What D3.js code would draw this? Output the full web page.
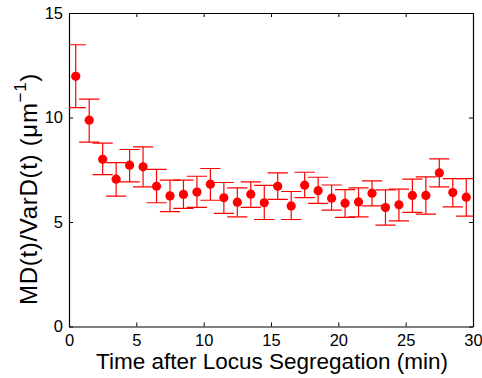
<!DOCTYPE html>
<html>
<head>
<meta charset="utf-8">
<script src="https://cdn.jsdelivr.net/npm/d3@7"></script>
<style>
  body { margin: 0; background: #fff; }
  text { font-family: "Liberation Sans", Arial, sans-serif; fill: #000; }
</style>
</head>
<body>
<div id="chart"></div>
<script>
// time (min) of each bin
var times = [0.5, 1.5, 2.5, 3.5, 4.5, 5.5, 6.5, 7.5, 8.5, 9.5,
             10.5, 11.5, 12.5, 13.5, 14.5, 15.5, 16.5, 17.5, 18.5, 19.5,
             20.5, 21.5, 22.5, 23.5, 24.5, 25.5, 26.5, 27.5, 28.5, 29.5];
// MD(t)/VarD(t)
var ratio = [11.97, 9.87, 8.0, 7.05, 7.72, 7.64, 6.71, 6.25, 6.32, 6.43,
             6.81, 6.16, 5.95, 6.33, 5.92, 6.71, 5.77, 6.76, 6.5, 6.14,
             5.9, 5.96, 6.38, 5.69, 5.82, 6.27, 6.27, 7.35, 6.41, 6.19];
// error bar ends
var upper = [13.48, 10.88, 8.77, 7.84, 8.47, 8.59, 7.52, 7.0, 7.0, 7.19,
             7.56, 6.89, 6.63, 6.92, 6.75, 7.35, 6.46, 7.38, 7.14, 6.77,
             6.55, 6.63, 6.97, 6.54, 6.57, 7.05, 7.16, 8.02, 7.08, 7.08];
var lower = [10.47, 8.82, 7.27, 6.24, 6.92, 6.68, 5.92, 5.5, 5.65, 5.7,
             6.04, 5.41, 5.25, 5.7, 5.12, 6.08, 5.12, 6.17, 5.89, 5.57,
             5.22, 5.25, 5.77, 4.85, 5.05, 5.46, 5.38, 6.68, 5.72, 5.28];

var xTicks = [0, 5, 10, 15, 20, 25, 30];
var yTicks = [0, 5, 10, 15];

var W = 482, H = 378;
var margin = { top: 13, right: 9, bottom: 51.5, left: 69 };
var width = W - margin.left - margin.right,
    height = H - margin.top - margin.bottom;

var svg = d3.select("#chart").append("svg")
  .attr("width", W).attr("height", H);

svg.append("defs").append("clipPath").attr("id", "plotclip")
  .append("rect").attr("width", width).attr("height", height);

var g = svg.append("g")
  .attr("transform", "translate(" + margin.left + "," + margin.top + ")");

var x = d3.scaleLinear().domain([0, 30]).range([0, width]);
var y = d3.scaleLinear().domain([0, 15]).range([height, 0]);

var points = times.map(function(t, i) {
  return { t: t, v: ratio[i], hi: upper[i], lo: lower[i] };
});

// axes, ticks pointing inward on all four sides
var tickLen = 4;
g.append("g").attr("class", "ax")
  .attr("transform", "translate(0," + height + ")")
  .call(d3.axisBottom(x).tickValues(xTicks).tickSizeInner(-tickLen).tickSizeOuter(0).tickPadding(8));
g.append("g").attr("class", "ax")
  .call(d3.axisLeft(y).tickValues(yTicks).tickSizeInner(-tickLen).tickSizeOuter(0).tickPadding(6));
g.append("g").attr("class", "ax")
  .call(d3.axisTop(x).tickValues(xTicks).tickSizeInner(-tickLen).tickSizeOuter(0).tickFormat(""));
g.append("g").attr("class", "ax")
  .attr("transform", "translate(" + width + ",0)")
  .call(d3.axisRight(y).tickValues(yTicks).tickSizeInner(-tickLen).tickSizeOuter(0).tickFormat(""));

g.selectAll(".ax path").attr("stroke", "#000").attr("stroke-width", 1.2);
g.selectAll(".ax line").attr("stroke", "#000").attr("stroke-width", 1);
g.selectAll(".ax text")
  .style("font-family", "'Liberation Sans', Arial, sans-serif")
  .style("font-size", "16.5px").attr("fill", "#000");

// error bars
var capHalf = 0.75; // in minutes
var bars = g.append("g").attr("clip-path", "url(#plotclip)");
bars.selectAll(".stem").data(points).enter().append("line")
  .attr("x1", function(d) { return x(d.t); })
  .attr("x2", function(d) { return x(d.t); })
  .attr("y1", function(d) { return y(d.lo); })
  .attr("y2", function(d) { return y(d.hi); })
  .attr("stroke", "#ff0000").attr("stroke-width", 1.2);
bars.selectAll(".capTop").data(points).enter().append("line")
  .attr("x1", function(d) { return x(d.t - capHalf); })
  .attr("x2", function(d) { return x(d.t + capHalf); })
  .attr("y1", function(d) { return y(d.hi); })
  .attr("y2", function(d) { return y(d.hi); })
  .attr("stroke", "#ff0000").attr("stroke-width", 1.2);
bars.selectAll(".capBot").data(points).enter().append("line")
  .attr("x1", function(d) { return x(d.t - capHalf); })
  .attr("x2", function(d) { return x(d.t + capHalf); })
  .attr("y1", function(d) { return y(d.lo); })
  .attr("y2", function(d) { return y(d.lo); })
  .attr("stroke", "#ff0000").attr("stroke-width", 1.2);

// markers
g.selectAll(".dot").data(points).enter().append("circle")
  .attr("cx", function(d) { return x(d.t); })
  .attr("cy", function(d) { return y(d.v); })
  .attr("r", 4.6)
  .attr("fill", "#ff0000");

// labels
svg.append("text")
  .attr("x", margin.left + width / 2 + 1)
  .attr("y", 369)
  .attr("text-anchor", "middle")
  .style("font-size", "22.5px")
  .text("Time after Locus Segregation (min)");

var yl = svg.append("text")
  .attr("transform", "translate(37,305) rotate(-90)")
  .attr("text-anchor", "start")
  .style("font-size", "24px")
  .style("letter-spacing", "0.7px");
yl.append("tspan").text("MD(t)/VarD(t) (\u03bcm");
yl.append("tspan").attr("dy", -11).style("font-size", "17px").text("\u22121");
yl.append("tspan").attr("dy", 11).text(")");
</script>
</body>
</html>
